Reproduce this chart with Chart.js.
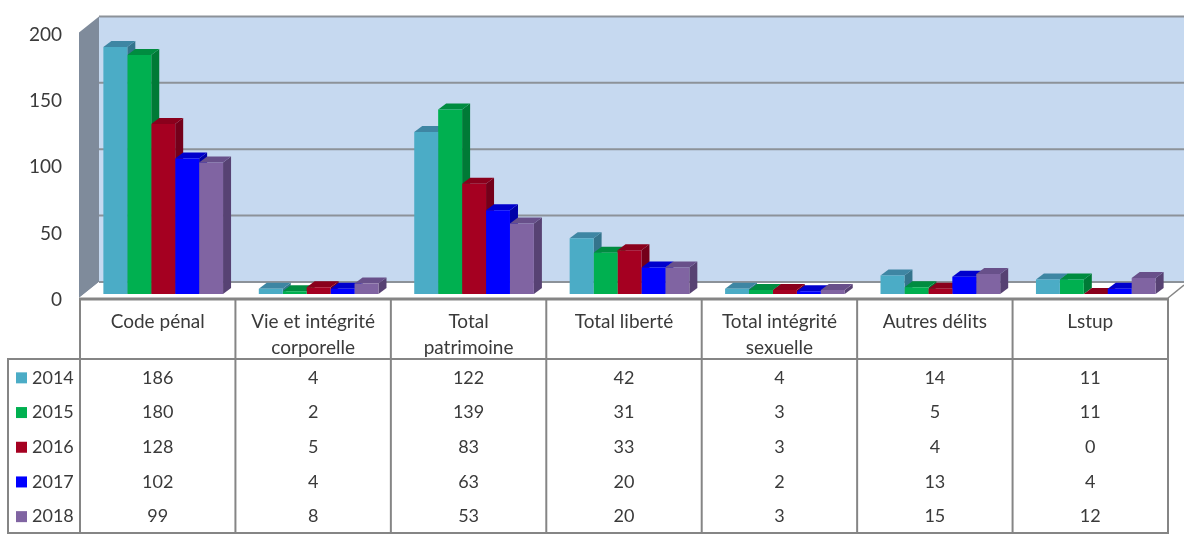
<!DOCTYPE html>
<html>
<head>
<meta charset="utf-8">
<style>
  html, body { margin: 0; padding: 0; background: #fff; }
  canvas { display: block; }
</style>
<script src="https://cdn.jsdelivr.net/npm/chart.js@4/dist/chart.umd.min.js"></script>
</head>
<body>
<canvas id="chart" width="1184" height="541"></canvas>
<script>
// Data
const categories = ['Code pénal', ['Vie et intégrité', 'corporelle'], ['Total', 'patrimoine'], 'Total liberté',
  ['Total intégrité', 'sexuelle'], 'Autres délits', 'Lstup'];
const years = ['2014', '2015', '2016', '2017', '2018'];
const values2014 = [186, 4, 122, 42, 4, 14, 11];
const values2015 = [180, 2, 139, 31, 3, 5, 11];
const values2016 = [128, 5, 83, 33, 3, 4, 0];
const values2017 = [102, 4, 63, 20, 2, 13, 4];
const values2018 = [99, 8, 53, 20, 3, 15, 12];
const yTicks = [0, 50, 100, 150, 200];

const series = [values2014, values2015, values2016, values2017, values2018];
const frontColors = ['#4BACC6', '#00B050', '#A50021', '#0000FF', '#8064A2'];
const topColors = ['#3E86A3', '#008C40', '#8A001C', '#0000CC', '#68508A'];
const sideColors = ['#34748C', '#007A36', '#74001A', '#0000A8', '#574273'];

const FONT = 'Lato, Carlito, sans-serif';
const TEXT = '#3A3A3A';
const LINE = '#858585';

// Depth of the bars, and of the floor behind the plane the bars stand on
const BAR_DX = 8, BAR_DY = 6;
const WALL_DY = 12;
const TABLE_SHIFT = 5.5;

function poly(ctx, pts, fill) {
  ctx.beginPath();
  pts.forEach((p, i) => i ? ctx.lineTo(p[0], p[1]) : ctx.moveTo(p[0], p[1]));
  ctx.closePath();
  ctx.fillStyle = fill;
  ctx.fill();
}

function hline(ctx, x0, x1, y, w, col) {
  ctx.strokeStyle = col || LINE;
  ctx.lineWidth = w || 2;
  ctx.beginPath();
  ctx.moveTo(x0, y);
  ctx.lineTo(x1, y);
  ctx.stroke();
}

function vline(ctx, x, y0, y1, w, col) {
  ctx.strokeStyle = col || LINE;
  ctx.lineWidth = w || 2;
  ctx.beginPath();
  ctx.moveTo(x, y0);
  ctx.lineTo(x, y1);
  ctx.stroke();
}

// Back wall, side wall, floor and gridlines, then sides and tops of the bars.
// The flat bar fronts are drawn by Chart.js on top of all this.
const box3d = {
  id: 'box3d',
  beforeDatasetsDraw(chart) {
    const ctx = chart.ctx, y = chart.scales.y;
    const wallTop = y.getPixelForValue(200) - WALL_DY;
    const wallBottom = y.getPixelForValue(0) - WALL_DY;
    const w = chart.width;
    ctx.save();
    poly(ctx, [[99, wallTop], [w, wallTop], [w, wallBottom], [99, wallBottom]], '#C6D9F0');
    poly(ctx, [[79, wallTop + 16], [99, wallTop], [99, wallBottom], [79, wallBottom + 16]], '#7F8B9B');
    poly(ctx, [[79, wallBottom + 16], [99, wallBottom], [w, wallBottom], [1168, wallBottom + 16]], '#FFFFFF');
    yTicks.forEach(t => hline(ctx, 99, w, y.getPixelForValue(t) - WALL_DY, 2, '#8C9299'));
    ctx.strokeStyle = LINE;
    ctx.lineWidth = 1.5;
    ctx.beginPath();
    ctx.moveTo(1168, wallBottom + 16);
    ctx.lineTo(1184, wallBottom + 3);
    ctx.stroke();

    series.forEach((_, d) => {
      chart.getDatasetMeta(d).data.forEach(bar => {
        const l = bar.x - bar.width / 2, r = bar.x + bar.width / 2;
        poly(ctx, [[r, bar.y], [r + BAR_DX, bar.y - BAR_DY], [r + BAR_DX, bar.base - BAR_DY], [r, bar.base]], sideColors[d]);
        poly(ctx, [[l, bar.y], [l + BAR_DX, bar.y - BAR_DY], [r + BAR_DX, bar.y - BAR_DY], [r, bar.y]], topColors[d]);
      });
    });
    ctx.restore();
  },
  // Data table below the plot, columns follow the category scale
  afterDraw(chart) {
    const ctx = chart.ctx, x = chart.scales.x;
    const step = x.getPixelForValue(1) - x.getPixelForValue(0);
    const center = i => x.getPixelForValue(i) - TABLE_SHIFT;
    const left = center(0) - step / 2, right = center(categories.length - 1) + step / 2;
    const headTop = 299, headBottom = 359, rowH = 34.7, tableBottom = 533, legendLeft = 8;

    ctx.save();
    hline(ctx, left - 1, right + 1, headTop, 3);
    hline(ctx, legendLeft - 1, right + 1, headBottom);
    hline(ctx, legendLeft - 1, right + 1, tableBottom);
    vline(ctx, legendLeft, headBottom, tableBottom);
    for (let i = 0; i <= categories.length; i++) {
      vline(ctx, center(i) - step / 2, headTop, tableBottom);
    }

    ctx.textAlign = 'center';
    ctx.textBaseline = 'middle';
    ctx.fillStyle = TEXT;
    ctx.font = '19px ' + FONT;
    categories.forEach((c, i) => {
      [].concat(c).forEach((line, k) => ctx.fillText(line, center(i), 322 + k * 25.5));
    });
    ctx.font = '18px ' + FONT;
    series.forEach((vals, d) => {
      const rowY = headBottom + rowH * (d + 0.5) + 1.5;
      vals.forEach((v, i) => ctx.fillText(String(v), center(i), rowY));
      ctx.fillStyle = frontColors[d];
      ctx.fillRect(16, rowY - 5.5, 11, 11);
      ctx.fillStyle = TEXT;
      ctx.textAlign = 'left';
      ctx.fillText(years[d], 32, rowY);
      ctx.textAlign = 'center';
    });
    ctx.restore();
  }
};

const ctx = document.getElementById('chart').getContext('2d');
const chart = new Chart(ctx, {
  type: 'bar',
  data: {
    labels: categories,
    datasets: series.map((vals, d) => ({
      label: years[d],
      data: vals,
      backgroundColor: frontColors[d],
      borderWidth: 0,
      categoryPercentage: 0.77,
      barPercentage: 1
    }))
  },
  options: {
    responsive: false,
    animation: false,
    layout: { padding: { top: 28.4, right: 10.5, bottom: 247, left: 0 } },
    plugins: {
      legend: { display: false },
      tooltip: { enabled: false }
    },
    scales: {
      x: { display: false },
      y: {
        min: 0,
        max: 200,
        // fixed axis box so the plot lines up with the table below
        afterFit(scale) {
          scale.width = 85.5;
          scale.paddingTop = 0;
          scale.paddingBottom = 0;
        },
        ticks: {
          stepSize: 50,
          padding: 23.5,
          labelOffset: 6,
          color: TEXT,
          font: { family: FONT, size: 19 }
        },
        border: { display: false },
        grid: { display: false, drawTicks: false }
      }
    }
  },
  plugins: [box3d]
});
</script>
</body>
</html>
